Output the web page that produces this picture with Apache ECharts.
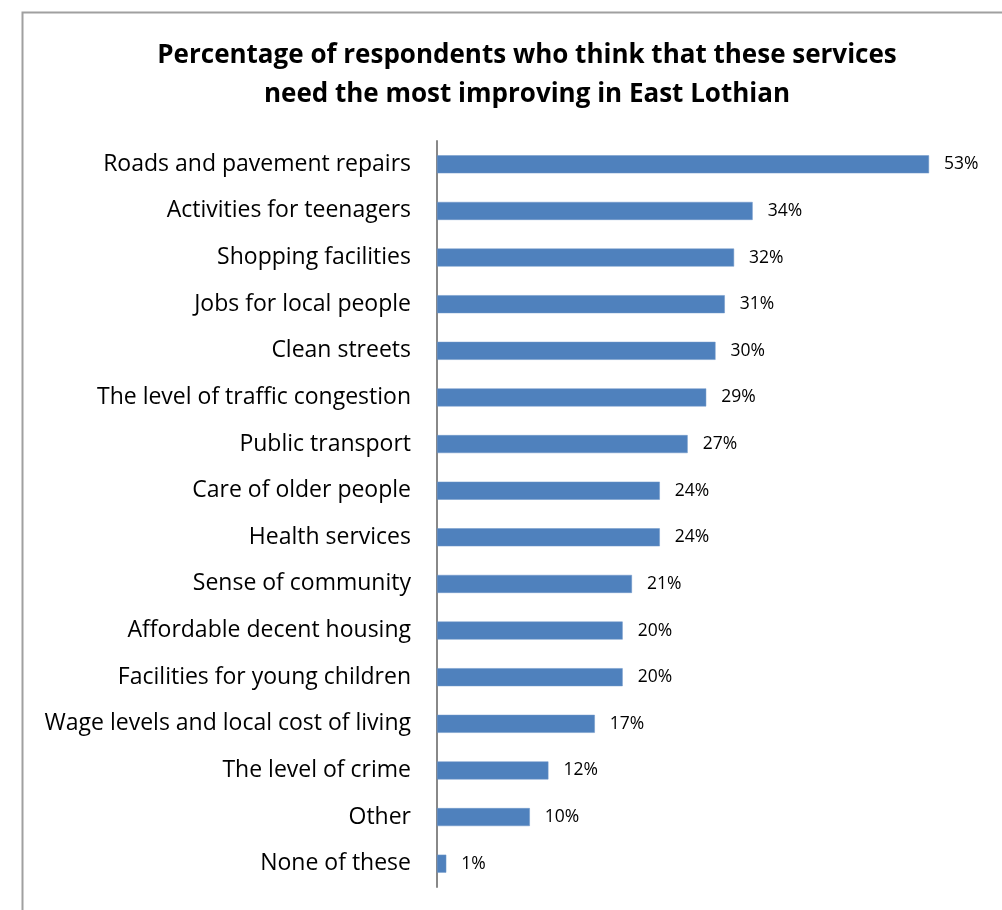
<!DOCTYPE html>
<html>
<head>
<meta charset="utf-8">
<script src="https://cdn.jsdelivr.net/npm/echarts@6/dist/echarts.min.js"></script>
<style>
html,body{margin:0;padding:0;background:#fff;}
#chart{width:1002px;height:910px;}
</style>
</head>
<body>
<div id="chart"></div>
<script>
var categories = [
  "Roads and pavement repairs",
  "Activities for teenagers",
  "Shopping facilities",
  "Jobs for local people",
  "Clean streets",
  "The level of traffic congestion",
  "Public transport",
  "Care of older people",
  "Health services",
  "Sense of community",
  "Affordable decent housing",
  "Facilities for young children",
  "Wage levels and local cost of living",
  "The level of crime",
  "Other",
  "None of these"
];
var values = [53, 34, 32, 31, 30, 29, 27, 24, 24, 21, 20, 20, 17, 12, 10, 1];
var titleLines = [
  "Percentage of respondents who think that these services",
  "need the most improving in East Lothian"
];

var chart = echarts.init(document.getElementById('chart'), null, {renderer: 'canvas'});
var FONT = '"Open Sans"';
chart.setOption({
  animation: false,
  backgroundColor: '#ffffff',
  title: {
    text: titleLines.join('\n'),
    left: 522,
    top: 31,
    textAlign: 'center',
    textStyle: {
      fontFamily: FONT,
      fontWeight: 'bold',
      fontSize: 26,
      lineHeight: 39,
      color: '#000000'
    }
  },
  graphic: [{
    type: 'rect',
    left: 20,
    top: 10,
    shape: {x: 0, y: 0, width: 1100, height: 1000},
    style: {fill: 'none', stroke: '#a0a0a0', lineWidth: 2},
    silent: true,
    z: -1
  }],
  grid: {
    left: 437,
    top: 141,
    width: 557,
    height: 746,
    containLabel: false
  },
  xAxis: {
    type: 'value',
    min: 0,
    max: 60,
    show: false,
    splitLine: {show: false}
  },
  yAxis: {
    type: 'category',
    data: categories,
    inverse: true,
    axisLine: {show: true, lineStyle: {color: '#888888', width: 2}},
    axisTick: {show: false},
    axisLabel: {
      fontFamily: FONT,
      fontSize: 23,
      color: '#000000',
      margin: 26,
      padding: [3, 0, 0, 0]
    }
  },
  series: [{
    type: 'bar',
    data: values,
    barWidth: 18,
    itemStyle: {color: '#4F81BD', borderColor: '#6F97C9', borderWidth: 0.5},
    label: {
      show: true,
      position: 'right',
      distance: 15,
      fontFamily: FONT,
      fontSize: 17.5,
      color: '#000000',
      formatter: function (p) { return p.value + '%'; }
    }
  }]
});
</script>
</body>
</html>
